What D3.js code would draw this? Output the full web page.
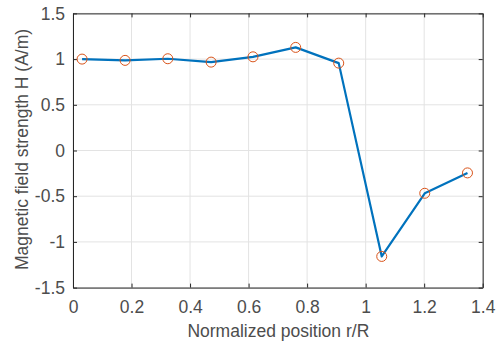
<!DOCTYPE html>
<html><head><meta charset="utf-8">
<script src="https://cdn.jsdelivr.net/npm/d3@7"></script>
<style>body{margin:0;background:#fff}svg{display:block}</style>
</head><body>
<script>
const xValues = [0.031, 0.178, 0.324, 0.472, 0.615, 0.761, 0.908, 1.055, 1.202, 1.348];
const hValues = [1.0, 0.986, 1.004, 0.967, 1.025, 1.128, 0.956, -1.159, -0.468, -0.245];
const xTicks = [0, 0.2, 0.4, 0.6, 0.8, 1, 1.2, 1.4];
const yTicks = [-1.5, -1, -0.5, 0, 0.5, 1, 1.5];
const xLabel = "Normalized position r/R";
const yLabel = "Magnetic field strength H (A/m)";

const W = 497, H = 342;
const m = {l: 73, r: 497 - 482.7, t: 13.4, b: 342 - 287.6};
const svg = d3.select("body").append("svg").attr("width", W).attr("height", H)
  .style("font-family", "'Liberation Sans', Arial, sans-serif");
const x = d3.scaleLinear().domain([0, 1.4]).range([m.l, W - m.r]);
const y = d3.scaleLinear().domain([-1.5, 1.5]).range([H - m.b, m.t]);
const txt = "#4d4d4d";
const axc = "#262626";
const fs = "17.5px";

// grid
svg.append("g").selectAll("line").data(xTicks).join("line")
  .attr("x1", d => x(d)).attr("x2", d => x(d)).attr("y1", y(-1.5)).attr("y2", y(1.5))
  .attr("stroke", "#e3e3e3").attr("stroke-width", 1);
svg.append("g").selectAll("line").data(yTicks).join("line")
  .attr("y1", d => y(d)).attr("y2", d => y(d)).attr("x1", x(0)).attr("x2", x(1.4))
  .attr("stroke", "#e3e3e3").attr("stroke-width", 1);

// axes
const fmt = d => String(d);
const ax = svg.append("g").attr("transform", `translate(0,${y(-1.5)})`)
  .call(d3.axisBottom(x).tickValues(xTicks).tickFormat(fmt).tickSizeInner(-4).tickSizeOuter(0).tickPadding(13));
const ay = svg.append("g").attr("transform", `translate(${x(0)},0)`)
  .call(d3.axisLeft(y).tickValues(yTicks).tickFormat(fmt).tickSizeInner(-4).tickSizeOuter(0).tickPadding(8));
const at = svg.append("g").attr("transform", `translate(0,${y(1.5)})`)
  .call(d3.axisTop(x).tickValues(xTicks).tickFormat("").tickSizeInner(-4).tickSizeOuter(0));
const ar = svg.append("g").attr("transform", `translate(${x(1.4)},0)`)
  .call(d3.axisRight(y).tickValues(yTicks).tickFormat("").tickSizeInner(-4).tickSizeOuter(0));
[ax, ay, at, ar].forEach(g => {
  g.select(".domain").attr("stroke", axc).attr("stroke-width", 1);
  g.selectAll(".tick line").attr("stroke", axc);
  g.selectAll("text").attr("fill", txt).style("font-size", fs).style("font-family", "'Liberation Sans', Arial, sans-serif");
});

// labels
svg.append("text").attr("x", (x(0) + x(1.4)) / 2 + 0.5).attr("y", 337)
  .attr("text-anchor", "middle").attr("fill", txt).style("font-size", fs).text(xLabel);
svg.append("text").attr("transform", `translate(28,${(y(-1.5) + y(1.5)) / 2 - 1}) rotate(-90)`)
  .attr("text-anchor", "middle").attr("fill", txt).style("font-size", fs).text(yLabel);

// line + markers
const pts = xValues.map((v, i) => [v, hValues[i]]);
svg.append("path").datum(pts)
  .attr("d", d3.line().x(d => x(d[0])).y(d => y(d[1])))
  .attr("fill", "none").attr("stroke", "#0072BD").attr("stroke-width", 2.2).attr("stroke-linejoin", "round");
svg.append("g").selectAll("circle").data(pts).join("circle")
  .attr("cx", d => x(d[0])).attr("cy", d => y(d[1])).attr("r", 5)
  .attr("fill", "none").attr("stroke", "#D95319").attr("stroke-width", 1);
</script>
</body></html>
